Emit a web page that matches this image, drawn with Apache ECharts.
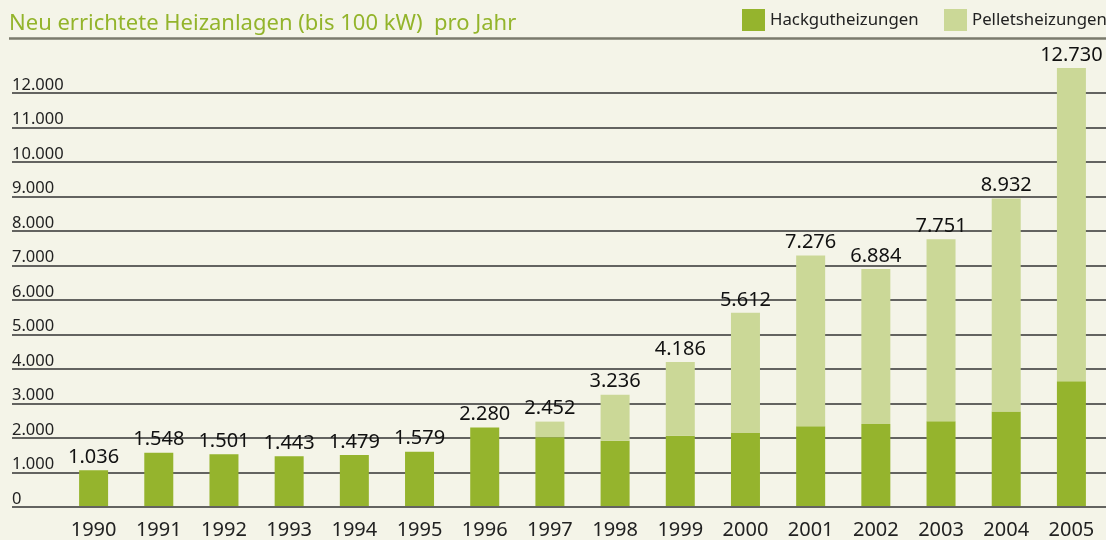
<!DOCTYPE html>
<html>
<head>
<meta charset="utf-8">
<script src="https://cdn.jsdelivr.net/npm/echarts@6/dist/echarts.min.js"></script>
<style>
html,body{margin:0;padding:0;background:#f4f4e8;}
#chart{width:1106px;height:540px;}
</style>
</head>
<body>
<div id="chart"></div>
<script>
const years = ['1990','1991','1992','1993','1994','1995','1996','1997','1998','1999','2000','2001','2002','2003','2004','2005'];
const hackgut = [1036,1548,1501,1443,1479,1579,2280,2000,1894,2040,2120,2320,2380,2460,2745,3623];
const pellets = [0,0,0,0,0,0,0,452,1342,2146,3492,4956,4504,5291,6187,9107];
const yTicks = [0,1000,2000,3000,4000,5000,6000,7000,8000,9000,10000,11000,12000];

const FONT = 'Noto Sans';
const fmt = v => String(v).replace(/\B(?=(\d{3})+(?!\d))/g, '.');

const chart = echarts.init(document.getElementById('chart'), null, {renderer:'canvas'});
chart.setOption({
  backgroundColor:'#f4f4e8',
  animation:false,
  textStyle:{fontFamily:FONT},
  title:{
    text:'Neu errichtete Heizanlagen (bis 100 kW)  pro Jahr',
    left:4, top:8,
    textStyle:{color:'#93b42b', fontSize:22, fontWeight:'normal', fontFamily:FONT}
  },
  graphic:[{
    type:'line', shape:{x1:9,y1:38.5,x2:1106,y2:38.5},
    style:{stroke:'#7a7a6c', lineWidth:2.5}
  }],
  legend:[
    {data:['Hackgutheizungen'], left:742, top:9, padding:0, itemWidth:23, itemHeight:22, icon:'rect', itemGap:0,
     textStyle:{fontSize:16.8, color:'#222', fontFamily:FONT}},
    {data:['Pelletsheizungen'], left:944, top:9, padding:0, itemWidth:23, itemHeight:22, icon:'rect', itemGap:0,
     textStyle:{fontSize:16.8, color:'#222', fontFamily:FONT}}
  ],
  grid:[
    {left:12, right:0, top:93, bottom:33},
    {left:61, right:2, top:93, bottom:33}
  ],
  xAxis:[
    {type:'category', gridIndex:0, data:years, show:false},
    {type:'category', gridIndex:1, data:years, boundaryGap:true,
     axisLine:{show:false}, axisTick:{show:false},
     axisLabel:{color:'#222', fontSize:20, margin:14, fontFamily:FONT}}
  ],
  yAxis:[
    {type:'value', gridIndex:0, min:0, max:12000, interval:1000,
     axisLine:{show:false}, axisTick:{show:false},
     splitLine:{show:true, lineStyle:{color:'#333', width:1.5}},
     axisLabel:{margin:0, align:'left', verticalAlign:'bottom', lineHeight:16,
       color:'#222', fontSize:16.5, fontFamily:FONT,
       formatter:v => yTicks.indexOf(v) >= 0 ? fmt(v) : ''}},
    {type:'value', gridIndex:1, min:0, max:12000, interval:1000, show:false, splitLine:{show:false}}
  ],
  series:[
    {name:'Hackgutheizungen', type:'bar', xAxisIndex:1, yAxisIndex:1, stack:'t', barWidth:29, clip:false,
     data:hackgut, itemStyle:{color:'#95b42d'}},
    {name:'Pelletsheizungen', type:'bar', xAxisIndex:1, yAxisIndex:1, stack:'t', barWidth:29, clip:false,
     data:pellets, itemStyle:{color:'#cbd897'},
     label:{show:true, position:'top', distance:3, color:'#111', fontSize:20, fontFamily:FONT,
       formatter:p => fmt(hackgut[p.dataIndex] + pellets[p.dataIndex])}}
  ]
});
</script>
</body>
</html>
